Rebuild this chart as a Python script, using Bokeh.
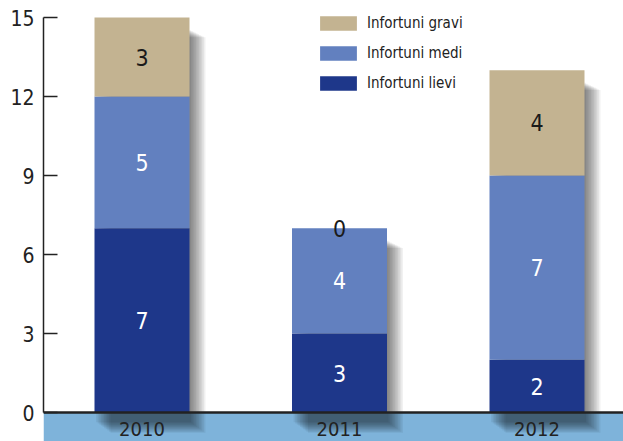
from bokeh.plotting import figure
from bokeh.models import ColumnDataSource, Range1d, FixedTicker, Legend, LegendItem, Span
from bokeh.core.properties import value
from bokeh.embed import file_html
from bokeh.resources import INLINE

years = ["2010", "2011", "2012"]
lievi = [7, 3, 2]
medi = [5, 4, 7]
gravi = [3, 0, 4]
series_names = ["Infortuni gravi", "Infortuni medi", "Infortuni lievi"]
y_ticks = [0, 3, 6, 9, 12, 15]

FONT = "Liberation Sans Narrow, DejaVu Sans Condensed, sans-serif"
C_LIEVI = "#1E378A"
C_MEDI = "#6280BF"
C_GRAVI = "#C3B391"
C_BAND = "#7EB3DA"

xs = list(range(len(years)))
b1 = [0] * len(years)
t1 = [a for a in lievi]
t2 = [a + b for a, b in zip(lievi, medi)]
t3 = [a + b + c for a, b, c in zip(lievi, medi, gravi)]

px_per_x = 197.5
px_per_y = 412 / 15.647
y_top = 15.647
y_bottom = -29 / px_per_y

p = figure(width=623, height=441, output_backend="svg", toolbar_location=None,
           x_range=Range1d((43 - 141.5) / px_per_x, 2.438),
           y_range=Range1d(y_bottom, y_top),
           min_border_left=43, min_border_right=0, min_border_top=0, min_border_bottom=0)
p.outline_line_color = None
p.xgrid.visible = False
p.ygrid.visible = False
p.xaxis.visible = False
p.background_fill_color = "white"
p.border_fill_color = "white"

# band under the axis
p.quad(left=[p.x_range.start], right=[p.x_range.end], bottom=[y_bottom], top=[0],
       fill_color=C_BAND, line_color=None)

bw = 95 / px_per_x
# soft shadows
for k in range(1, 11):
    off = k * 1.6 / px_per_x
    p.quad(left=[x - bw / 2 + off for x in xs], right=[x + bw / 2 + off for x in xs],
           top=[t - 0.45 - k * 0.03 for t in t3], bottom=[y_bottom * (0.3 + k * 0.04)] * 3,
           fill_color="black", fill_alpha=0.06, line_color=None)

src = ColumnDataSource(dict(x=xs, b1=b1, t1=t1, t2=t2, t3=t3))
r_l = p.vbar(x="x", width=bw, bottom="b1", top="t1", source=src, fill_color=C_LIEVI, line_color=None)
r_m = p.vbar(x="x", width=bw, bottom="t1", top="t2", source=src, fill_color=C_MEDI, line_color=None)
r_g = p.vbar(x="x", width=bw, bottom="t2", top="t3", source=src, fill_color=C_GRAVI, line_color=None)

# x axis line
p.add_layout(Span(location=0, dimension="width", line_color="#222222", line_width=2.5))

# value labels
lab = ColumnDataSource(dict(
    x=xs * 3,
    y=[(b + t) / 2 for b, t in zip(b1, t1)] + [(b + t) / 2 for b, t in zip(t1, t2)] + [(b + t) / 2 for b, t in zip(t2, t3)],
    txt=[str(v) for v in lievi + medi + gravi],
    col=["white"] * 3 + ["white"] * 3 + ["#1a1a1a"] * 3,
))
p.text(x="x", y="y", text="txt", source=lab, text_color="col", text_font=value(FONT),
       text_font_size="23px", text_align="center", text_baseline="middle")

# year labels
p.text(x=xs, y=[-0.62] * 3, text=years, text_color="#222222", text_font=value(FONT),
       text_font_size="20px", text_align="center", text_baseline="middle")

# y axis
ya = p.yaxis[0]
ya.bounds = (0, 15)
ya.ticker = FixedTicker(ticks=y_ticks)
ya.major_tick_in = 14
ya.major_tick_out = 0
ya.minor_tick_line_color = None
ya.axis_line_color = "#222222"
ya.axis_line_width = 1.5
ya.major_tick_line_color = "#222222"
ya.major_tick_line_width = 1.5
ya.major_label_standoff = 9
ya.major_label_text_font = FONT
ya.major_label_text_font_size = "21px"
ya.major_label_text_color = "#222222"

# legend
leg_items = []
for name, col in zip(series_names, [C_GRAVI, C_MEDI, C_LIEVI]):
    r = p.vbar(x=[0], width=0, bottom=[0], top=[0], fill_color=col, line_color=None)
    leg_items.append(LegendItem(label=name, renderers=[r]))
legend = Legend(items=leg_items, location=(272, 348), glyph_width=46, glyph_height=18,
                label_height=20, spacing=10, padding=0, margin=0, label_standoff=6,
                border_line_color=None, background_fill_alpha=0,
                label_text_font=FONT, label_text_font_size="15px", label_text_color="#222222")
p.add_layout(legend)

open("out.html", "w").write(file_html(p, INLINE))
